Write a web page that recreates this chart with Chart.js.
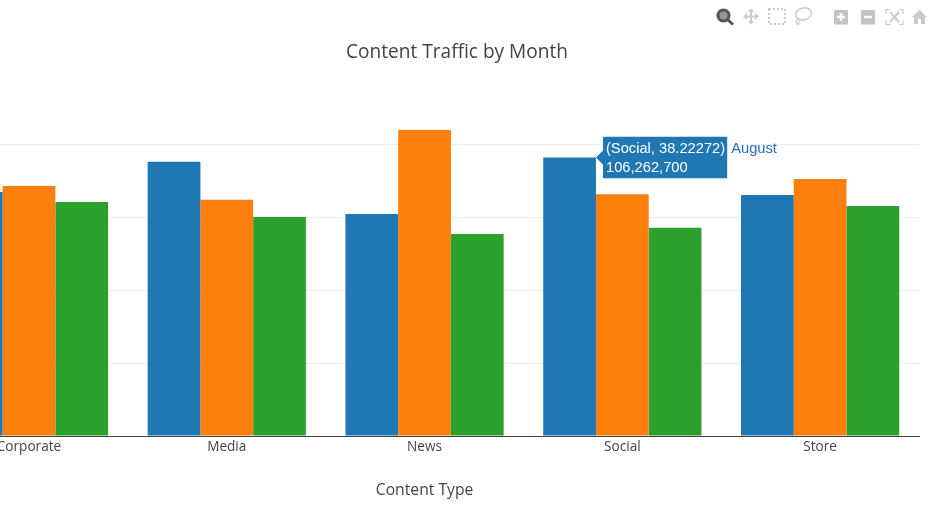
<!DOCTYPE html>
<html>
<head>
<meta charset="utf-8">
<title>Content Traffic by Month</title>
<script src="https://cdn.jsdelivr.net/npm/chart.js@4"></script>
<style>
    html, body { margin: 0; padding: 0; background: #fff; overflow: hidden; }
    #wrap { position: relative; width: 930px; height: 508px; }
    #modebar { position: absolute; left: 0; top: 0; }
</style>
</head>
<body>
<div id="wrap">
    <canvas id="trafficChart" width="930" height="508"></canvas>
    <!-- barre d'outils -->
    <svg id="modebar" width="930" height="32" fill="none" stroke-linecap="butt">
        <circle cx="723.5" cy="15.5" r="5.5" stroke="#555" stroke-width="3" fill="#999"/>
        <line x1="727.5" y1="19.5" x2="733" y2="24.5" stroke="#555" stroke-width="3"/>
        <g stroke="#ccc" stroke-width="2">
            <line x1="745" y1="16.5" x2="757" y2="16.5"/>
            <line x1="751" y1="10.5" x2="751" y2="22.5"/>
        </g>
        <g fill="#ccc">
            <polygon points="743,16.5 747,13 747,20"/>
            <polygon points="759,16.5 755,13 755,20"/>
            <polygon points="751,8.5 747.5,12 754.5,12"/>
            <polygon points="751,24.5 747.5,21 754.5,21"/>
        </g>
        <rect x="769" y="9" width="16" height="15" stroke="#ccc" stroke-width="2" stroke-dasharray="2 2"/>
        <ellipse cx="803.5" cy="14" rx="8" ry="6" transform="rotate(-15 803.5 14)" stroke="#ccc" stroke-width="1.5"/>
        <path d="M798 19 q-3 3 -1 5 q2 1 2 -3" stroke="#ccc" stroke-width="1.5"/>
        <rect x="834" y="10" width="14" height="14.5" fill="#c4c4c4"/>
        <path d="M841 13v8M837 17h8" stroke="#fff" stroke-width="2.5"/>
        <rect x="861" y="10" width="14" height="14.5" fill="#c4c4c4"/>
        <path d="M864 17h8" stroke="#fff" stroke-width="2.5"/>
        <path d="M886 14v-4.500h4M899 9.500h4v4.500M903 20v4.500h-4M890 24.500h-4v-4.500" stroke="#ccc" stroke-width="1.2"/>
        <path d="M890 12l9 10M899 12l-9 10" stroke="#ccc" stroke-width="2"/>
        <polygon points="919.500,9.500 912,17 914,17 914,24 918,24 918,19 921,19 921,24 925,24 925,17 927,17" fill="#ccc"/>
    </svg>
</div>
<script>
// Donnees
const categories = ['Corporate', 'Media', 'News', 'Social', 'Store'];
const seriesNames = ['August', 'September', 'October'];
const augustValues = [93100000, 104600000, 84700000, 106262700, 92000000];
const septemberValues = [95400000, 90100000, 116800000, 92200000, 98100000];
const octoberValues = [89300000, 83600000, 77100000, 79500000, 87800000];
const gridValues = [0, 27800000, 55600000, 83400000, 111200000];
const seriesColors = ['#1f77b4', '#ff7f0e', '#2ca02c'];
const hoverShare = '38.22272';
const xAxisTitle = 'Content Type';

function toPoints(values) {
    return values.map(function(v, i) { return { x: i, y: v }; });
}

Chart.Tooltip.positioners.barEdge = function(items) {
    if (!items.length) return false;
    const bar = items[0].element;
    return { x: bar.x + bar.width / 2, y: bar.y };
};

// Titre d'axe centre sur News + nom de serie a cote du tooltip
const extraLabels = {
    id: 'extraLabels',
    afterLayout: function(chart) {
        chart.titleBlock.right = 914;
    },
    afterDraw: function(chart) {
        const ctx = chart.ctx;
        ctx.save();
        ctx.textBaseline = 'middle';
        ctx.fillStyle = '#444';
        ctx.textAlign = 'center';
        ctx.font = '15.7px "Open Sans"';
        ctx.fillText(xAxisTitle, chart.scales.x.getPixelForValue(2), 491);

        const tip = chart.tooltip;
        if (tip && tip.opacity) {
            ctx.textAlign = 'left';
            ctx.font = '14.7px "Liberation Sans"';
            ctx.fillStyle = '#2a6db2';
            ctx.fillText(seriesNames[0], tip.x + tip.width + 4, 148.5);
        }
        ctx.restore();
    }
};

const chart = new Chart(document.getElementById('trafficChart'), {
    type: 'bar',
    data: {
        datasets: [
            { label: seriesNames[0], data: toPoints(augustValues), backgroundColor: seriesColors[0] },
            { label: seriesNames[1], data: toPoints(septemberValues), backgroundColor: seriesColors[1] },
            { label: seriesNames[2], data: toPoints(octoberValues), backgroundColor: seriesColors[2] }
        ]
    },
    options: {
        responsive: false,
        devicePixelRatio: 1,
        animation: false,
        events: [],
        categoryPercentage: 0.8,
        barPercentage: 1,
        layout: { padding: { left: 0, right: 11, top: 0, bottom: 0 } },
        plugins: {
            legend: { display: false },
            title: {
                display: true,
                text: 'Content Traffic by Month',
                color: '#444',
                font: { family: '"Open Sans"', size: 19.1, weight: 'normal' },
                padding: { top: 41, bottom: 36.1 }
            },
            tooltip: {
                enabled: true,
                animation: false,
                position: 'barEdge',
                xAlign: 'left',
                yAlign: 'center',
                backgroundColor: seriesColors[0],
                cornerRadius: 0,
                caretSize: 7,
                caretPadding: 0,
                padding: { left: 3, right: 2, top: 3, bottom: 1 },
                displayColors: false,
                titleColor: '#fff',
                bodyColor: '#fff',
                titleFont: { family: '"Liberation Sans"', size: 14.7, weight: 'normal' },
                bodyFont: { family: '"Liberation Sans"', size: 14.7, weight: 'normal' },
                titleMarginBottom: 2,
                callbacks: {
                    title: function(items) {
                        return '(' + categories[items[0].parsed.x] + ', ' + hoverShare + ')';
                    },
                    label: function(item) {
                        return item.parsed.y.toLocaleString('en-US');
                    }
                }
            }
        },
        scales: {
            x: {
                type: 'linear',
                offset: false,
                min: -0.1466,
                max: 4.5,
                grid: { display: false, drawTicks: false },
                border: { display: true, color: '#444', width: 1 },
                ticks: {
                    autoSkip: false,
                    maxRotation: 0,
                    padding: 3,
                    color: '#444',
                    font: { family: '"Open Sans"', size: 13.6 },
                    callback: function(value) { return categories[value]; }
                },
                afterBuildTicks: function(scale) {
                    scale.ticks = categories.map(function(c, i) { return { value: i }; });
                },
                afterFit: function(scale) {
                    scale.paddingLeft = 0;
                    scale.paddingRight = 0;
                    scale.height = 72;
                }
            },
            y: {
                min: 0,
                max: 128200000,
                grid: { color: '#eee', drawTicks: false },
                border: { display: false },
                ticks: { display: false },
                afterBuildTicks: function(scale) {
                    scale.ticks = gridValues.map(function(v) { return { value: v }; });
                },
                afterFit: function(scale) {
                    scale.width = 0;
                }
            }
        }
    },
    plugins: [extraLabels]
});

// Afficher le tooltip de Social / August
chart.tooltip.setActiveElements([{ datasetIndex: 0, index: 3 }], { x: 0, y: 0 });
chart.update();
</script>
</body>
</html>
